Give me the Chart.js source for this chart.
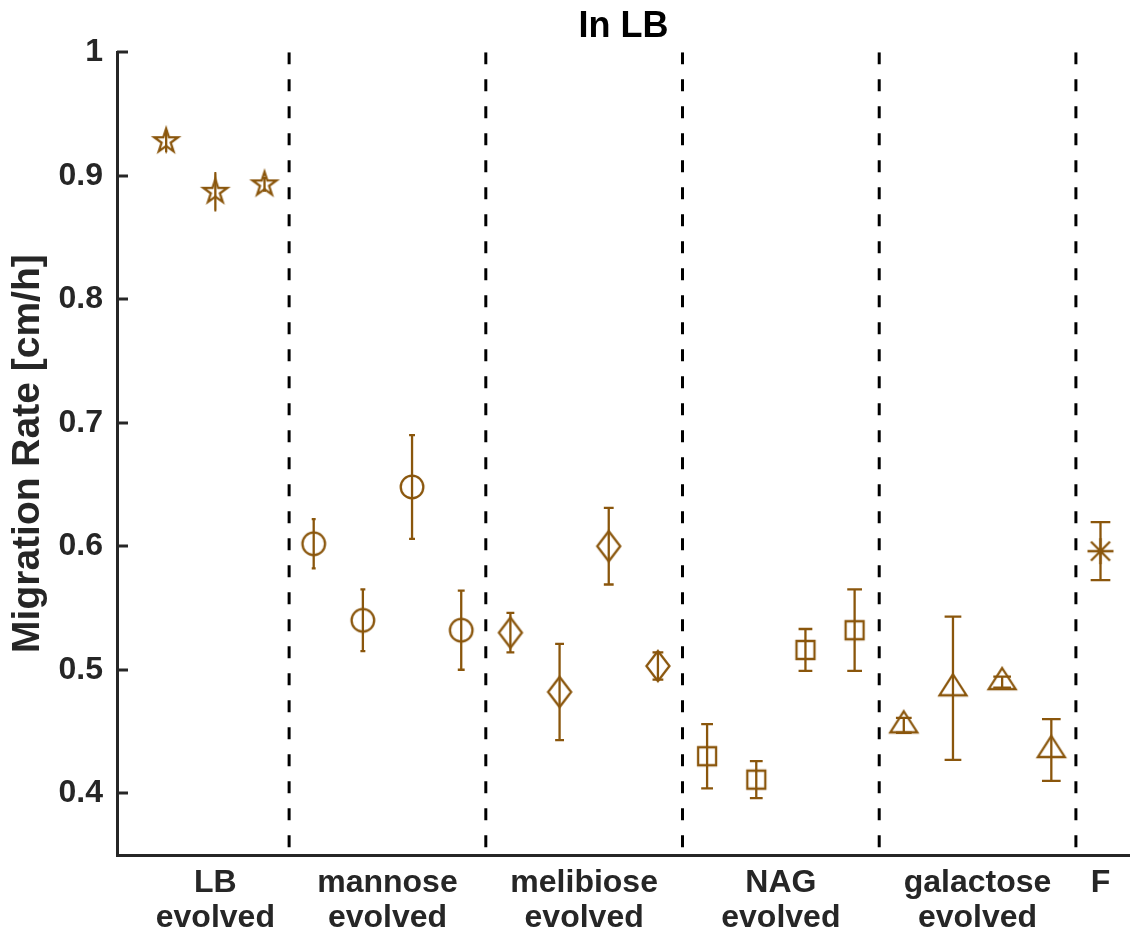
<!DOCTYPE html>
<html>
<head>
<meta charset="utf-8">
<title>In LB</title>
<script src="https://cdn.jsdelivr.net/npm/chart.js@4.4.1/dist/chart.umd.min.js"></script>
<style>
  html, body { margin: 0; padding: 0; background: #fff; }
  #wrap { width: 1130px; height: 934px; }
</style>
</head>
<body>
<div id="wrap"><canvas id="chart"></canvas></div>
<script>
// categories and group layout
const groupLabels = [['LB', 'evolved'], ['mannose', 'evolved'], ['melibiose', 'evolved'], ['NAG', 'evolved'], ['galactose', 'evolved'], ['F']];
const groupLabelX = [2, 5.5, 9.5, 13.5, 17.5, 20];
const dividerX = [3.5, 7.5, 11.5, 15.5, 19.5];
const yTicks = [0.4, 0.5, 0.6, 0.7, 0.8, 0.9, 1];

// migration rates (cm/h) with error bars
const lbX = [1, 2, 3];
const lbRate = [0.928, 0.887, 0.893];
const lbErr = [0.009, 0.015, 0.005];

const mannoseX = [4, 5, 6, 7];
const mannoseRate = [0.602, 0.540, 0.648, 0.532];
const mannoseErr = [0.020, 0.025, 0.042, 0.032];

const melibioseX = [8, 9, 10, 11];
const melibioseRate = [0.530, 0.482, 0.600, 0.503];
const melibioseErr = [0.016, 0.039, 0.031, 0.011];

const nagX = [12, 13, 14, 15];
const nagRate = [0.430, 0.411, 0.516, 0.532];
const nagErr = [0.026, 0.015, 0.017, 0.033];

const galactoseX = [16, 17, 18, 19];
const galactoseRate = [0.455, 0.485, 0.490, 0.435];
const galactoseErr = [0.006, 0.058, 0.0045, 0.025];

const fX = [20];
const fRate = [0.596];
const fErr = [0.0235];

const BROWN = '#8a560c';
const AXIS = '#262626';

// hollow marker shapes
function marker(kind) {
    const c = document.createElement('canvas');
    c.width = 40; c.height = 40;
    const g = c.getContext('2d');
    g.strokeStyle = BROWN;
    g.lineWidth = 2.3;
    g.beginPath();
    if (kind === 'pentagram') {
        for (let i = 0; i < 10; i++) {
            const r = i % 2 ? 4.8 : 12.5;
            const a = -Math.PI / 2 + i * Math.PI / 5;
            const px = 20 + r * Math.cos(a), py = 20 + r * Math.sin(a);
            i ? g.lineTo(px, py) : g.moveTo(px, py);
        }
        g.closePath();
    } else if (kind === 'circle') {
        g.arc(20, 20, 11.3, 0, Math.PI * 2);
    } else if (kind === 'diamond') {
        g.moveTo(20, 5); g.lineTo(31.5, 20); g.lineTo(20, 35); g.lineTo(8.5, 20); g.closePath();
    } else if (kind === 'square') {
        g.rect(11, 11, 18, 18);
    } else if (kind === 'triangle') {
        g.moveTo(20, 6); g.lineTo(33.5, 27); g.lineTo(6.5, 27); g.closePath();
    } else if (kind === 'asterisk') {
        g.moveTo(7, 20); g.lineTo(33, 20);
        g.moveTo(20, 7); g.lineTo(20, 33);
        g.moveTo(10.5, 10.5); g.lineTo(29.5, 29.5);
        g.moveTo(29.5, 10.5); g.lineTo(10.5, 29.5);
    }
    g.stroke();
    return c;
}

function group(xs, rates, errs, kind) {
    return {
        type: 'scatter',
        data: xs.map((x, i) => ({ x: x, y: rates[i] })),
        errors: errs,
        pointStyle: marker(kind),
        pointRadius: 12,
        borderColor: BROWN,
        backgroundColor: 'transparent',
        showLine: false
    };
}

function divider(x) {
    return {
        type: 'line',
        data: [{ x: x, y: 1 }, { x: x, y: 0.35 }],
        borderColor: '#000',
        borderWidth: 3,
        borderDash: [12, 15],
        pointRadius: 0,
        showLine: true,
        fill: false
    };
}

// vertical error bars, cap width grows with x like the original figure
const errorBars = {
    id: 'errorBars',
    beforeDatasetsDraw(chart) {
        const ctx = chart.ctx;
        const xs = chart.scales.x, ys = chart.scales.y;
        ctx.save();
        ctx.strokeStyle = BROWN;
        ctx.lineWidth = 2.3;
        chart.data.datasets.forEach(ds => {
            if (!ds.errors) return;
            ds.data.forEach((p, i) => {
                const e = ds.errors[i];
                const px = xs.getPixelForValue(p.x);
                const top = ys.getPixelForValue(p.y + e);
                const bot = ys.getPixelForValue(p.y - e);
                const half = xs.getPixelForValue(p.x * 1.01) - px;
                ctx.beginPath();
                ctx.moveTo(px, top); ctx.lineTo(px, bot);
                ctx.moveTo(px - half, top); ctx.lineTo(px + half, top);
                ctx.moveTo(px - half, bot); ctx.lineTo(px + half, bot);
                ctx.stroke();
            });
        });
        ctx.restore();
    }
};

// tick marks pointing into the plot
const inwardTicks = {
    id: 'inwardTicks',
    afterDraw(chart) {
        const ctx = chart.ctx;
        const ys = chart.scales.y;
        const left = chart.chartArea.left;
        ctx.save();
        ctx.strokeStyle = AXIS;
        ctx.lineWidth = 3;
        ys.ticks.forEach(t => {
            const py = Math.round(ys.getPixelForValue(t.value));
            ctx.beginPath();
            ctx.moveTo(left, py);
            ctx.lineTo(left + 11, py);
            ctx.stroke();
        });
        ctx.restore();
    }
};

new Chart(document.getElementById('chart'), {
    data: {
        datasets: [
            ...dividerX.map(divider),
            group(lbX, lbRate, lbErr, 'pentagram'),
            group(mannoseX, mannoseRate, mannoseErr, 'circle'),
            group(melibioseX, melibioseRate, melibioseErr, 'diamond'),
            group(nagX, nagRate, nagErr, 'square'),
            group(galactoseX, galactoseRate, galactoseErr, 'triangle'),
            group(fX, fRate, fErr, 'asterisk')
        ]
    },
    options: {
        responsive: true,
        maintainAspectRatio: false,
        animation: false,
        layout: { padding: 0, autoPadding: false },
        plugins: {
            legend: { display: false },
            tooltip: { enabled: false },
            title: {
                display: true,
                fullSize: false,
                text: 'In LB',
                color: '#000',
                font: { family: 'Liberation Sans', size: 36, weight: 'bold', lineHeight: 1.2 },
                padding: { top: 5, bottom: 4 }
            }
        },
        scales: {
            x: {
                type: 'linear',
                min: 0,
                max: 20.6,
                afterBuildTicks: s => { s.ticks = groupLabelX.map(v => ({ value: v })); },
                afterFit: s => { s.height = 79; s.paddingLeft = 0; s.paddingRight = 0; },
                grid: { display: false, drawTicks: false },
                border: { display: true, color: AXIS, width: 3 },
                ticks: {
                    autoSkip: false,
                    maxRotation: 0,
                    padding: 11,
                    color: AXIS,
                    font: { family: 'Liberation Sans', size: 32, weight: 'bold', lineHeight: 1.08 },
                    callback: v => groupLabels[groupLabelX.indexOf(v)]
                }
            },
            y: {
                type: 'linear',
                min: 0.35,
                max: 1,
                afterBuildTicks: s => { s.ticks = yTicks.map(v => ({ value: v })); },
                afterFit: s => { s.width = 117; s.paddingTop = 0; s.paddingBottom = 0; },
                grid: { display: false, drawTicks: false },
                border: { display: true, color: AXIS, width: 3 },
                ticks: {
                    padding: 14,
                    color: AXIS,
                    font: { family: 'Liberation Sans', size: 32, weight: 'bold' },
                    callback: v => v === 1 ? '1' : v.toFixed(1)
                },
                title: {
                    display: true,
                    text: 'Migration Rate [cm/h]',
                    color: AXIS,
                    font: { family: 'Liberation Sans', size: 39, weight: 'bold', lineHeight: 1.2 },
                    padding: { top: 5, bottom: 0 }
                }
            }
        }
    },
    plugins: [errorBars, inwardTicks]
});
</script>
</body>
</html>
